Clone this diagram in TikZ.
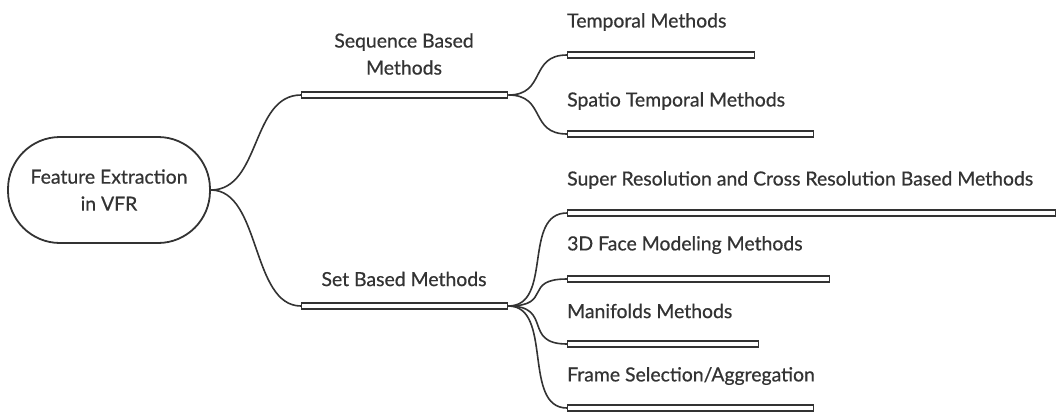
\documentclass[tikz,border=0pt]{standalone}
\usepackage{fontspec}
\setmainfont{Lato}[RawFeature={embolden=0.6}]
\definecolor{ink}{HTML}{333333}
\begin{document}
\begin{tikzpicture}[x=1pt,y=-1pt,
  lbl/.style={font=\fontsize{19.4}{24}\selectfont, text=ink, inner sep=0pt},
  bar/.style={draw=ink, line width=1.4pt, fill=white, minimum height=6pt, inner sep=0pt, anchor=west},
  link/.style={draw=ink, line width=1.6pt},
]
\useasboundingbox (0,0) rectangle (1057,413);
% root
\node[draw=ink, line width=1.8pt, rounded corners=52pt, minimum width=202pt, minimum height=106pt, align=center, lbl] (root) at (109,190) {Feature Extraction\\[3pt]in VFR};
% level 1 bars
\node[bar, minimum width=206pt] (seq) at (301,95) {};
\node[bar, minimum width=206pt] (set) at (301,306) {};
\node[lbl, align=center] (seqt) at (404,54) {Sequence Based\\[3pt]Methods};
\node[lbl] (sett) at (404,279) {Set Based Methods};
% level 2 bars
\node[bar, minimum width=187pt] (tem) at (567,55) {};
\node[bar, minimum width=246pt] (spa) at (567,134) {};
\node[bar, minimum width=488pt] (sup) at (567,213) {};
\node[bar, minimum width=262pt] (fac) at (567,279) {};
\node[bar, minimum width=191pt] (man) at (567,344) {};
\node[bar, minimum width=246pt] (fra) at (567,408) {};
% labels
\node[lbl, anchor=west] (temt) at (567,22) {Temporal Methods};
\node[lbl, anchor=west] (spat) at (567,101) {Spatio Temporal Methods};
\node[lbl, anchor=west] (supt) at (567,180) {Super Resolution and Cross Resolution Based Methods};
\node[lbl, anchor=west] (fact) at (567,245) {3D Face Modeling Methods};
\node[lbl, anchor=west] (mant) at (567,311) {Manifolds Methods};
\node[lbl, anchor=west] (frat) at (567,376) {Frame Selection/Aggregation};
% connectors
\draw[link] (root.east) .. controls +(50,0) and +(-50,0) .. (seq.west);
\draw[link] (root.east) .. controls +(50,0) and +(-50,0) .. (set.west);
\draw[link] (seq.east) .. controls +(38,0) and +(-38,0) .. (tem.west);
\draw[link] (seq.east) .. controls +(38,0) and +(-38,0) .. (spa.west);
\draw[link] (set.east) .. controls +(45,0) and +(-45,0) .. (sup.west);
\draw[link] (set.east) .. controls +(45,0) and +(-45,0) .. (fac.west);
\draw[link] (set.east) .. controls +(45,0) and +(-45,0) .. (man.west);
\draw[link] (set.east) .. controls +(45,0) and +(-45,0) .. (fra.west);
\end{tikzpicture}
\end{document}
